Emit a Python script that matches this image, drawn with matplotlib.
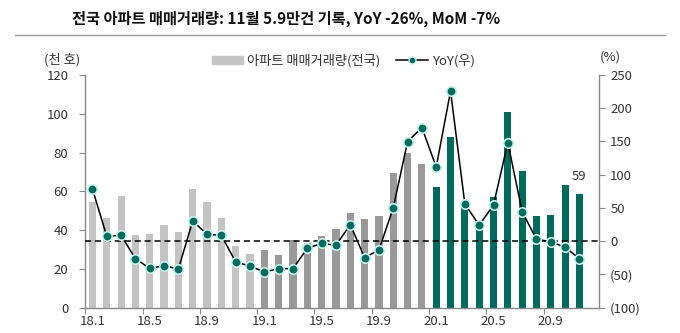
import matplotlib
matplotlib.use('Agg')
import matplotlib.pyplot as plt
from matplotlib.ticker import FuncFormatter
from matplotlib.lines import Line2D
from matplotlib.patches import Patch

plt.rcParams['font.family'] = ['Noto Sans CJK KR', 'DejaVu Sans']

months = ['18.1', '18.2', '18.3', '18.4', '18.5', '18.6', '18.7', '18.8', '18.9', '18.10', '18.11', '18.12',
          '19.1', '19.2', '19.3', '19.4', '19.5', '19.6', '19.7', '19.8', '19.9', '19.10', '19.11', '19.12',
          '20.1', '20.2', '20.3', '20.4', '20.5', '20.6', '20.7', '20.8', '20.9', '20.10', '20.11']
volume = [54.3, 46.2, 57.8, 37.5, 38.0, 42.8, 38.9, 61.2, 54.7, 46.4, 32.0, 27.5,
          29.6, 27.0, 34.7, 33.5, 37.1, 40.6, 48.6, 45.9, 47.4, 69.3, 79.6, 74.3,
          62.1, 88.0, 54.0, 41.5, 57.1, 100.9, 70.3, 47.3, 47.8, 63.1, 58.6]
yoy = [78.5, 7.3, 8.8, -26.3, -40.8, -36.8, -41.8, 30.4, 10.3, 8.8, -31.3, -37.3,
       -46.3, -41.3, -41.3, -10.7, -3.2, -6.2, 25.0, -24.8, -13.2, 50.0, 149.8, 170.8,
       111.6, 225.4, 56.0, 24.0, 54.5, 148.2, 44.4, 2.8, -0.7, -9.2, -26.3]
tick_labels = ['18.1', '18.5', '18.9', '19.1', '19.5', '19.9', '20.1', '20.5', '20.9']

c_2018 = '#c4c4c4'
c_2019 = '#999999'
c_2020 = '#006a5d'
bar_colors = [c_2018 if m.startswith('18') else c_2019 if m.startswith('19') else c_2020 for m in months]
x = list(range(len(months)))

fig = plt.figure(figsize=(6.8, 3.33), dpi=100)
ax = fig.add_axes([0.125, 0.076, 0.756, 0.699])
ax2 = ax.twinx()

ax.bar(x, volume, width=0.5, color=bar_colors, zorder=2)
ax.set_ylim(0, 120)
ax.set_yticks(range(0, 121, 20))
ax.set_xlim(-0.52, len(months) - 1 + 1.37)

ax2.axhline(0, color='black', linestyle=(0, (4, 2.5)), linewidth=1.1, zorder=3)
ax2.plot(x, yoy, color='black', linewidth=1.1, marker='o', markersize=6.8,
         markerfacecolor=c_2020, markeredgecolor='#c6f2ec', markeredgewidth=1.2, zorder=4)
ax2.set_ylim(-100, 250)
ax2.set_yticks(range(-100, 251, 50))
ax2.yaxis.set_major_formatter(FuncFormatter(lambda v, p: '(%d)' % abs(v) if v < 0 else '%d' % v))

# ticks on category borders, labels on the bars
ax.set_xticks([i - 0.5 for i in range(0, len(months), 4)])
ax.set_xticklabels([])
ax.set_xticks(range(0, len(months), 4), minor=True)
ax.set_xticklabels(tick_labels, minor=True)
ax.tick_params(axis='x', which='minor', length=0, pad=5)
ax.tick_params(axis='x', which='major', length=4, color='#888888')

for a in (ax, ax2):
    for s in a.spines.values():
        s.set_visible(False)
    a.tick_params(labelsize=9.5, labelcolor='#333333', color='#888888')
ax.spines['left'].set_visible(True)
ax.spines['bottom'].set_visible(True)
ax2.spines['right'].set_visible(True)
for s in (ax.spines['left'], ax.spines['bottom'], ax2.spines['right']):
    s.set_color('#888888')
    s.set_linewidth(1.0)
ax.tick_params(axis='y', length=4, pad=8)
ax2.tick_params(axis='y', length=4, pad=4)
ax.tick_params(axis='x', which='minor', labelsize=9.5, labelcolor='#333333')

ax.annotate('59', (len(months) - 1, volume[-1]), xytext=(0, 8), textcoords='offset points',
            ha='center', va='bottom', fontsize=9.5, color='#333333')

fig.text(0.42, 0.945, '전국 아파트 매매거래량: 11월 5.9만건 기록, YoY -26%, MoM -7%',
         ha='center', va='center', fontsize=11, fontweight='bold', color='#111111')
fig.add_artist(Line2D([0.022, 0.978], [0.895, 0.895], color='#999999', linewidth=1.0))
fig.text(0.092, 0.822, '(천 호)', ha='center', va='center', fontsize=9.5, color='#333333')
fig.text(0.897, 0.828, '(%)', ha='center', va='center', fontsize=9.5, color='#333333')

handles = [Patch(color=c_2018), Line2D([], [], color='black', linewidth=1.1, marker='o', markersize=5,
                                        markerfacecolor=c_2020, markeredgecolor='#c6f2ec')]
fig.legend(handles, ['아파트 매매거래량(전국)', 'YoY(우)'], loc='center', bbox_to_anchor=(0.505, 0.818),
           ncol=2, frameon=False, fontsize=9.5, handlelength=2.4, handleheight=0.6,
           columnspacing=1.2, handletextpad=0.3, labelcolor='#333333')

fig.savefig('out.png', dpi=100)
